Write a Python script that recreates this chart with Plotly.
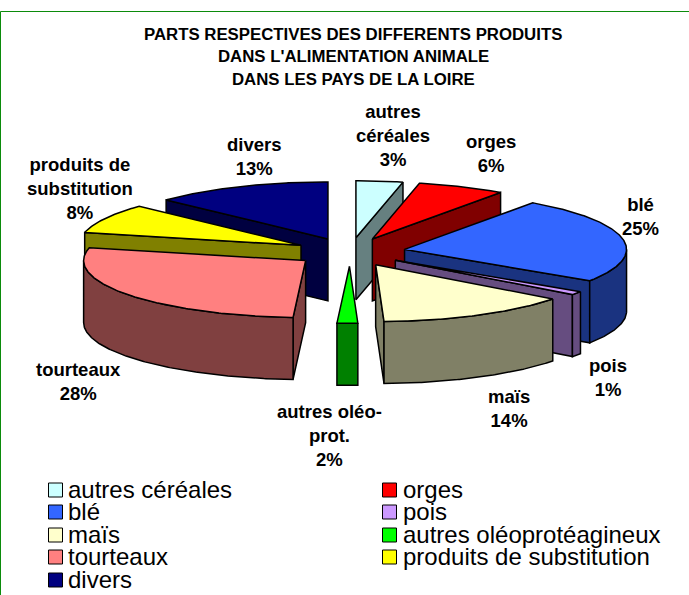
import numpy as np
import plotly.graph_objects as go

# ---- data ----
names = ["autres céréales", "orges", "blé", "pois", "maïs", "autres oléoprotéagineux",
         "tourteaux", "produits de substitution", "divers"]
label_names = ["autres<br>céréales", "orges", "blé", "pois", "maïs", "autres oléo-<br>prot.",
               "tourteaux", "produits de<br>substitution", "divers"]
values = [3.4, 6.4, 24.5, 1.0, 14.1, 1.5, 27.7, 8.4, 13.0]
top_colors = ["#CCFFFF", "#FF0000", "#3366FF", "#CC99FF", "#FFFFCC", "#00FF00",
              "#FF8080", "#FFFF00", "#000080"]
side_colors = ["#668080", "#800000", "#1A3380", "#664D80", "#808066", "#008000",
               "#804040", "#808000", "#000040"]
shown_percent = [3, 6, 25, 1, 14, 2, 28, 8, 13]
label_x = [393, 491, 640, 608, 509, 329, 78, 80, 254]
label_y = [135, 153, 216, 377, 408, 435, 381, 188, 156]
title_lines = ["PARTS RESPECTIVES DES DIFFERENTS PRODUITS",
               "DANS L'ALIMENTATION ANIMALE", "DANS LES PAYS DE LA LOIRE"]
title_y = [34, 56, 79]

# ---- pie geometry (pixels) ----
W, H = 689, 595
CX, CY = 350, 252
RX, RY = 222, 57
DEPTH = 62
EXPLODE = 0.25

fig = go.Figure()


def poly(xs, ys, fill):
    fig.add_trace(go.Scatter(x=xs, y=ys, mode="lines", fill="toself", fillcolor=fill,
                             line=dict(color="black", width=1.5), hoverinfo="skip",
                             showlegend=False))


edges = np.cumsum([0] + values) / sum(values) * 360.0
starts, ends = edges[:-1], edges[1:]
mids = (starts + ends) / 2
order = np.argsort(-np.cos(np.radians(mids)))


def rim(ax, ay, a0, a1):
    t = np.radians(np.linspace(a0, a1, max(2, int(abs(a1 - a0)) * 2)))
    return ax + RX * np.sin(t), ay - RY * np.cos(t)


for i in order:
    a0, a1, m = starts[i], ends[i], np.radians(mids[i])
    ax = CX + EXPLODE * RX * np.sin(m)
    ay = CY - EXPLODE * RY * np.cos(m)
    # radial walls turned to the viewer
    for ang, visible in ((a0, np.sin(np.radians(a0)) < 0), (a1, np.sin(np.radians(a1)) > 0)):
        if visible:
            px, py = rim(ax, ay, ang, ang)
            px, py = px[0], py[0]
            poly([ax, px, px, ax, ax], [ay, py, py + DEPTH, ay + DEPTH, ay], side_colors[i])
    # outer wall on the front half
    f0, f1 = max(a0, 90), min(a1, 270)
    if f1 > f0:
        px, py = rim(ax, ay, f0, f1)
        poly(np.r_[px, px[::-1], px[0]], np.r_[py, py[::-1] + DEPTH, py[0]], side_colors[i])
    # top face
    px, py = rim(ax, ay, a0, a1)
    poly(np.r_[ax, px, ax], np.r_[ay, py, ay], top_colors[i])

# ---- data labels ----
for i, name in enumerate(label_names):
    fig.add_annotation(x=label_x[i], y=label_y[i], text=f"<b>{name}<br>{shown_percent[i]}%</b>",
                       showarrow=False, xanchor="center", yanchor="middle",
                       font=dict(family="Liberation Sans", size=18.5, color="black"))

# ---- title ----
for line, y in zip(title_lines, title_y):
    fig.add_annotation(x=353, y=y, text=f"<b>{line}</b>", showarrow=False,
                       font=dict(family="Liberation Sans", size=16.8, color="black"))

# ---- legend ----
leg_x = [55.5, 389.5]
leg_text_x = [68, 403]
leg_y = [490, 512, 535, 557, 580]
for i, name in enumerate(names):
    col = i % 2
    row = i // 2
    fig.add_trace(go.Scatter(x=[leg_x[col]], y=[leg_y[row]], mode="markers",
                             marker=dict(symbol="square", size=14, color=top_colors[i],
                                         line=dict(color="black", width=1)),
                             hoverinfo="skip", showlegend=False))
    fig.add_trace(go.Scatter(x=[leg_text_x[col]], y=[leg_y[row] + 2], mode="text", text=[name],
                             textposition="middle right",
                             textfont=dict(family="Liberation Sans", size=24, color="black"),
                             hoverinfo="skip", showlegend=False))

fig.update_layout(width=W, height=H, autosize=False, margin=dict(l=0, r=0, t=0, b=0),
                  paper_bgcolor="white", plot_bgcolor="white", showlegend=False,
                  xaxis=dict(range=[0, W], visible=False, fixedrange=True),
                  yaxis=dict(range=[H, 0], visible=False, fixedrange=True),
                  shapes=[dict(type="rect", x0=0.5, y0=11.5, x1=W + 5, y1=H + 5,
                               line=dict(color="#0B8B0B", width=1), layer="below")])
fig.write_html("out.html", config=dict(displayModeBar=False),
               post_script="document.body.style.margin='0';document.body.style.overflow='hidden';")
